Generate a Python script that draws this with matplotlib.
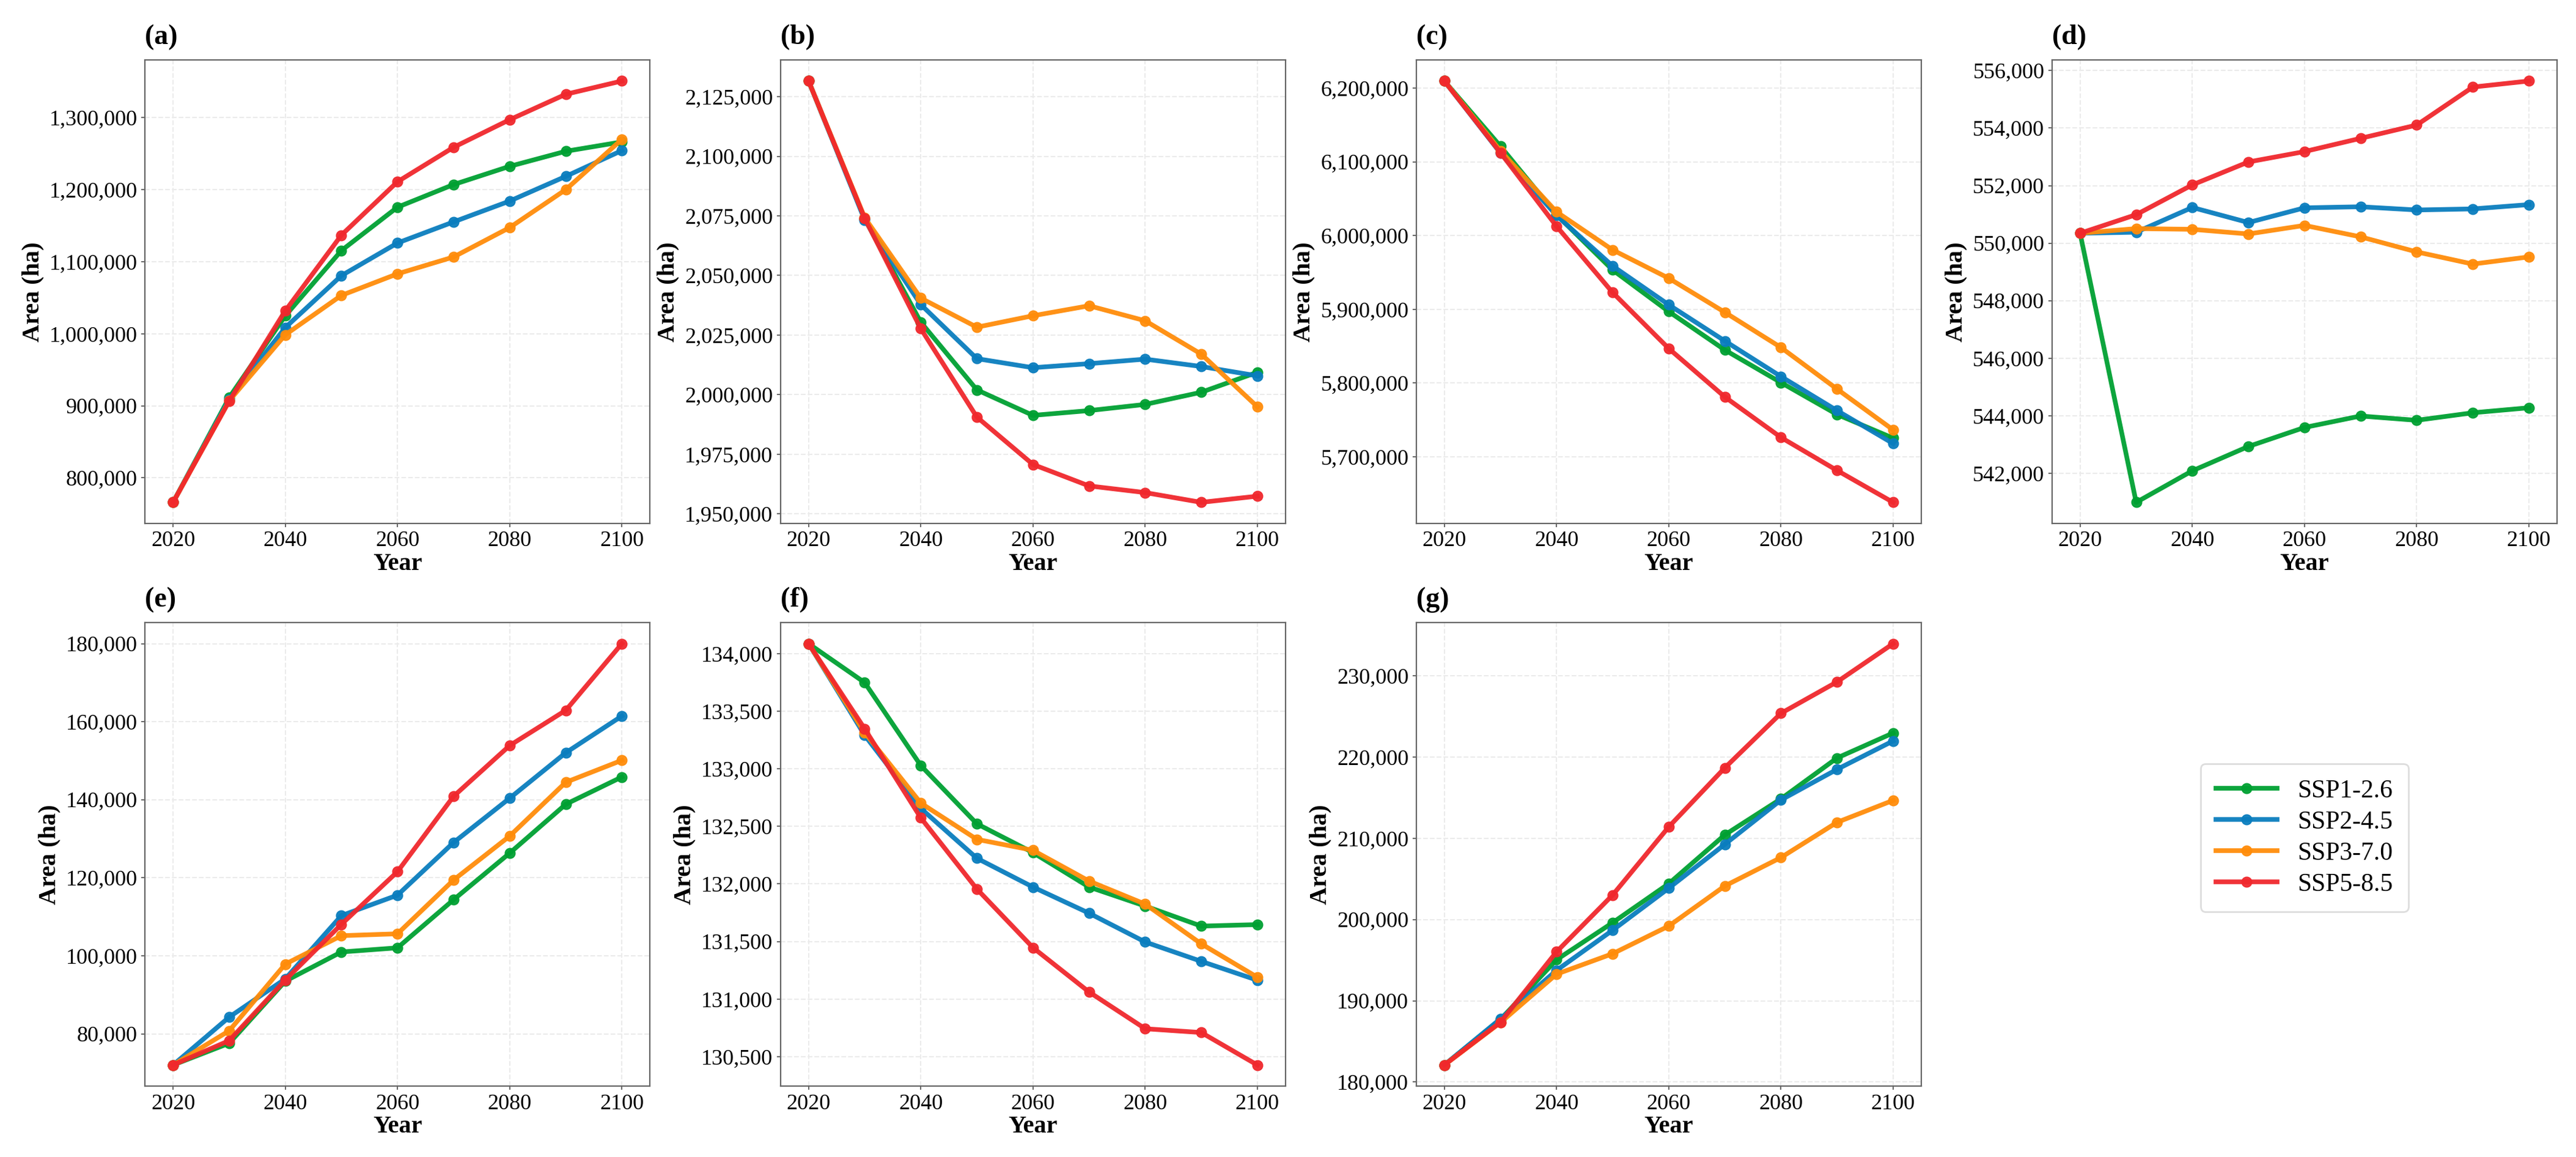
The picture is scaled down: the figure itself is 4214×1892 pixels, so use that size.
import numpy as np
import matplotlib
matplotlib.use("Agg")
import matplotlib.pyplot as plt
from matplotlib.ticker import FuncFormatter, MultipleLocator

plt.rcParams['font.family'] = ['Liberation Serif', 'DejaVu Serif']

years = [2020, 2030, 2040, 2050, 2060, 2070, 2080, 2090, 2100]
scenarios = ['SSP1-2.6', 'SSP2-4.5', 'SSP3-7.0', 'SSP5-8.5']
colors = ['#00A032', '#0A7DBE', '#FF8C0A', '#F0282D']
panel_labels = ['(a)', '(b)', '(c)', '(d)', '(e)', '(f)', '(g)']

# area (ha) per panel, one list per scenario (SSP1, SSP2, SSP3, SSP5)
area_a = [
    [766000, 911400, 1024900, 1115400, 1175600, 1207000, 1232300, 1253200, 1266200],
    [766000, 909000, 1008500, 1080600, 1125900, 1155200, 1184100, 1218400, 1254200],
    [766000, 907000, 998500, 1053200, 1083100, 1106500, 1147300, 1200000, 1269700],
    [766000, 906500, 1031800, 1136800, 1210900, 1258700, 1297000, 1332300, 1350700],
]
area_b = [
    [2131600, 2073800, 2030400, 2002000, 1991300, 1993300, 1995900, 2001000, 2009400],
    [2131600, 2073300, 2037800, 2015100, 2011300, 2013000, 2014900, 2011800, 2007900],
    [2131600, 2074300, 2040500, 2028300, 2033100, 2037300, 2031000, 2017000, 1994900],
    [2131600, 2074000, 2027700, 1990600, 1970700, 1961700, 1958900, 1954800, 1957400],
]
area_c = [
    [6209700, 6121200, 6028300, 5953400, 5897000, 5844900, 5800700, 5757400, 5725300],
    [6209700, 6112000, 6027300, 5958800, 5906200, 5857100, 5808900, 5762700, 5718000],
    [6209700, 6115000, 6032200, 5980600, 5942200, 5896000, 5848300, 5791900, 5736500],
    [6209700, 6112500, 6012700, 5922800, 5846900, 5781200, 5726300, 5681500, 5638200],
]
area_d = [
    [550344, 540991, 542087, 542934, 543594, 543993, 543843, 544105, 544279],
    [550344, 550381, 551240, 550717, 551228, 551265, 551153, 551190, 551340],
    [550344, 550506, 550481, 550319, 550618, 550219, 549696, 549273, 549522],
    [550344, 550991, 552025, 552822, 553183, 553644, 554105, 555425, 555636],
]
area_e = [
    [72000, 77573, 93495, 100971, 102039, 114369, 126311, 138835, 145825],
    [72000, 84272, 94078, 110291, 115534, 129029, 140388, 152039, 161456],
    [72000, 80777, 97864, 105146, 105631, 119417, 130680, 144466, 150097],
    [72000, 78250, 93786, 108058, 121553, 140874, 153883, 162913, 180000],
]
area_f = [
    [134086, 133748, 133028, 132522, 132272, 131973, 131808, 131634, 131647],
    [134086, 133291, 132656, 132223, 131973, 131746, 131496, 131328, 131164],
    [134086, 133314, 132702, 132387, 132292, 132025, 131825, 131480, 131190],
    [134086, 133347, 132574, 131956, 131447, 131062, 130743, 130710, 130428],
]
area_g = [
    [182097, 187700, 195051, 199618, 204417, 210429, 214856, 219888, 222964],
    [182097, 187782, 193746, 198686, 203858, 209264, 214716, 218490, 221986],
    [182097, 187316, 193281, 195797, 199199, 204138, 207633, 211967, 214669],
    [182097, 187363, 196030, 203020, 211407, 218677, 225387, 229254, 233961],
]
panels = [area_a, area_b, area_c, area_d, area_e, area_f, area_g]
ytick_step = [100000, 25000, 100000, 2000, 20000, 500, 10000]

fig = plt.figure(figsize=(42.14, 18.92), dpi=100)

col_left = [0.0563, 0.3030, 0.5498, 0.7966]
row_bottom = [0.5476, 0.0613]
w, h = 0.1960, 0.4006

fmt = FuncFormatter(lambda v, p: f'{v:,.0f}')
handles = []
for i, data in enumerate(panels):
    r, c = divmod(i, 4)
    ax = fig.add_axes([col_left[c], row_bottom[r], w, h])
    for k, vals in enumerate(data):
        ln, = ax.plot(years, vals, color=colors[k], lw=5.5, marker='o',
                      markersize=12, alpha=0.95, label=scenarios[k])
        if i == 0:
            handles.append(ln)
    ax.set_xlim(2015, 2105)
    ax.set_xticks([2020, 2040, 2060, 2080, 2100])
    ax.yaxis.set_major_locator(MultipleLocator(ytick_step[i]))
    ax.yaxis.set_major_formatter(fmt)
    ax.grid(True, color='#ebebeb', ls='--', lw=1.5)
    ax.set_axisbelow(True)
    for s in ax.spines.values():
        s.set_color('#666666')
        s.set_linewidth(1.6)
    ax.tick_params(labelsize=26, length=4, width=1.4, color='#666666', pad=5)
    ax.set_xlabel('Year', fontsize=29, fontweight='bold', labelpad=2)
    ax.set_ylabel('Area (ha)', fontsize=29, fontweight='bold', labelpad=6)
    ax.text(0, 1.021, panel_labels[i], transform=ax.transAxes, ha='left',
            va='bottom', fontsize=33, fontweight='bold')

leg = fig.legend(handles=handles, loc='center', bbox_to_anchor=(0.8946, 0.276),
                 fontsize=30, handlelength=2.4, handletextpad=0.8,
                 labelspacing=0.3, borderpad=0.6, fancybox=True, framealpha=1)
leg.get_frame().set_edgecolor('#dddddd')
leg.get_frame().set_linewidth(2)

fig.savefig('out.png', dpi=100)
